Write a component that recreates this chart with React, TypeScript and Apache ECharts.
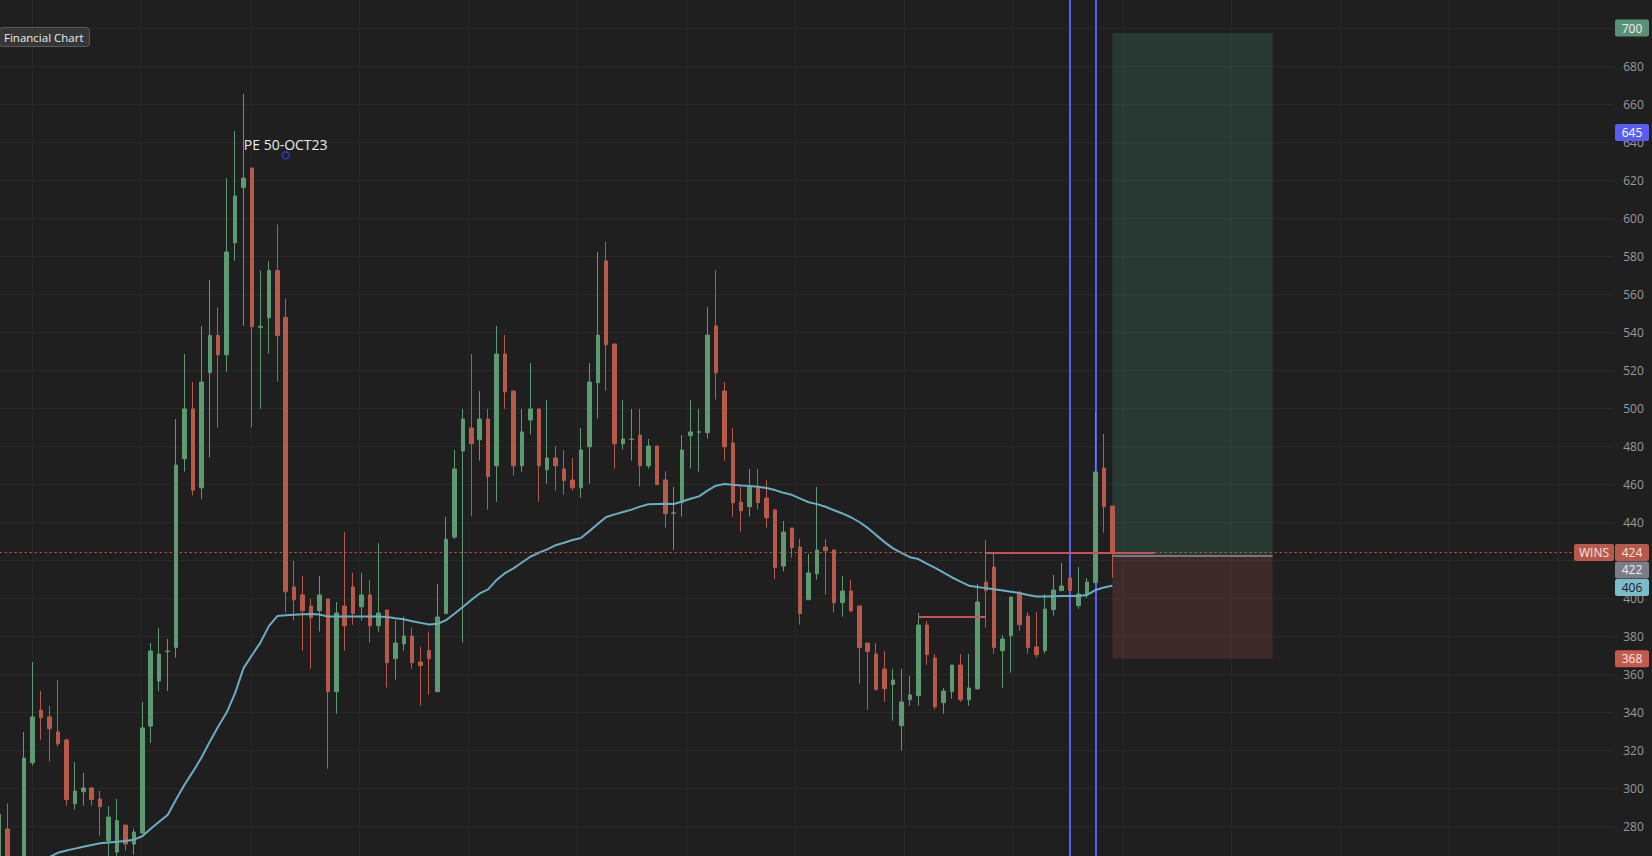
import React, { useEffect, useRef } from "react";
import * as echarts from "echarts";

// ---------- data ----------
const opens = [
  262, 278.4, 255, 262, 313.3, 341.0, 337.4, 329.5, 325.3, 291.7,
  298.1, 300.0, 294.2, 272.3, 266.3, 280.5, 270.5, 276.3, 332.6, 356.3,
  371.8, 373.9, 473.3, 499.5, 458, 518.6, 538.2, 528.0, 587.0, 616.0,
  626.3, 542.5, 547.5, 572.4, 547.7, 405.8, 401.6, 395.8, 393.3, 399.5,
  350.7, 395.8, 405.8, 395.4, 401.6, 385.4, 393.7, 368.1, 375.8, 380.0,
  366.3, 372.3, 350.7, 391.8, 432.1, 477.4, 489.5, 483.3, 494.2, 469.6,
  528.4, 508.9, 469.6, 493.7, 499.5, 467.5, 473.7, 467.9, 462.1, 458.0,
  479.6, 513.3, 577.4, 533.7, 481.2, 483.4, 485.8, 469.6, 480.0, 462.1,
  444.6, 450.2, 485.4, 487.2, 487.0, 543.2, 508.9, 481.6, 450.5, 448.1,
  458.3, 452.6, 446.3, 416.8, 436.8, 426.8, 399.1, 412.8, 426.8, 425.3,
  397.6, 403.7, 395.8, 376.3, 370.5, 362.6, 354.4, 332.8, 346.5, 348.6,
  385.8, 368.4, 344.9, 350.7, 364.7, 346.5, 352.3, 408.4, 416.3, 372.3,
  380.2, 402.1, 390.5, 374.2, 372.3, 393.9, 403.9, 410.5, 396.0, 401.8,
  408.1, 468.4, 448.4,
];
const closes = [
  286.1, 262, 262, 315.8, 337.4, 337.0, 331.2, 323.3, 293.9, 298.4,
  300.0, 293.9, 290.2, 284.7, 282.8, 270.5, 276.8, 331.6, 372.1, 370.5,
  372.1, 470.0, 499.5, 456.8, 513.7, 538.2, 528.0, 582.1, 611.6, 621.0,
  542.8, 543.0, 572.4, 538.1, 403.3, 399.1, 393.3, 389.6, 401.6, 350.7,
  392.1, 385.4, 391.8, 401.6, 385.4, 392.1, 366.0, 376.3, 380.0, 366.0,
  364.4, 368.1, 390.0, 431.0, 467.9, 494.2, 481.2, 494.2, 463.9, 528.4,
  508.6, 469.6, 487.4, 499.5, 469.6, 473.7, 469.6, 461.8, 458.0, 477.9,
  513.7, 538.4, 533.3, 481.2, 483.7, 483.6, 469.6, 480.0, 459.7, 444.4,
  444.8, 477.9, 487.4, 487.5, 538.4, 518.6, 479.6, 450.2, 446.0, 458.6,
  450.2, 442.3, 416.0, 434.7, 426.5, 391.8, 413.2, 425.3, 424.9, 397.6,
  403.7, 393.3, 373.9, 371.8, 351.9, 352.3, 356.8, 345.3, 349.0, 385.8,
  370.2, 342.8, 351.0, 364.7, 346.5, 352.6, 397.9, 403.9, 373.9, 378.4,
  400.5, 386.0, 373.9, 370.2, 394.2, 404.2, 406.3, 403.9, 402.1, 408.4,
  466.3, 448.1, 423.9,
];
const lows = [
  258, 258, 250, 258, 311.8, 325.4, 313.9, 321.8, 290.7, 288.6,
  290.7, 290.7, 274.9, 262, 263, 267.0, 264.7, 276, 323.7, 351.1,
  351.1, 368.6, 466.5, 454, 452, 473.9, 489.6, 519.1, 577.5, 543.3,
  489.6, 499.6, 528.6, 513.9, 392.3, 388.1, 372.3, 362.8, 382.3, 310.2,
  339.1, 372.3, 385.9, 388.1, 376.5, 382.3, 352.8, 357.0, 372.3, 362.8,
  343.3, 349.1, 350.7, 391.8, 431.0, 376.5, 443.0, 472.3, 446.5, 450.7,
  499.6, 464.4, 466.5, 486.0, 450.7, 460.2, 456.5, 454.4, 456.5, 452.8,
  460.2, 494.4, 509.1, 468.1, 478.1, 472.3, 458.6, 468.1, 459.7, 437.0,
  425.3, 442.8, 468.1, 466.5, 483.9, 504.4, 472.3, 442.8, 434.9, 442.8,
  446.5, 437.0, 410, 414, 421.2, 386.0, 399, 409.7, 401.8, 392.3,
  390.2, 392.3, 354.9, 341.2, 351.2, 345.4, 335.4, 319.7, 343.3, 343.3,
  364.9, 341.2, 339.1, 347.0, 345.4, 343.3, 351.5, 384.4, 370.7, 352.8,
  360.7, 382.8, 370.7, 368.6, 370.7, 390.7, 403.9, 394.4, 394.4, 400,
  407, 434.4, 410.7,
];
const highs = [
  288, 291.9, 264, 329.5, 366.3, 351.1, 343.2, 356.8, 326, 313.7,
  307.9, 300.5, 298.4, 290.5, 294.2, 280.5, 278.6, 345.3, 376.3, 384.2,
  378.4, 494.2, 528.4, 513.7, 543.1, 567.4, 553.0, 620.9, 645.8, 665.3,
  626.3, 572.4, 577.2, 596.7, 557.7, 419.5, 411.6, 399.5, 411.6, 399.5,
  397.9, 434.7, 413.2, 413.2, 409.5, 428.8, 393.7, 388.1, 390.2, 384.4,
  374.4, 382.3, 407.4, 442.6, 477.9, 499.5, 528.4, 508.9, 499.5, 543.2,
  538.4, 508.9, 499.5, 523.7, 499.5, 504.2, 480.0, 477.9, 473.7, 489.5,
  523.7, 582.1, 587.4, 533.7, 504.2, 499.5, 499.5, 483.7, 480.0, 466.5,
  458.6, 485.8, 504.2, 499.5, 553.2, 572.6, 513.7, 489.5, 458.4, 467.9,
  467.9, 462.1, 447, 440.5, 436.8, 431.1, 423.2, 458.4, 431.1, 425.3,
  411.6, 409.5, 395.8, 376.3, 376.3, 372.1, 362.6, 362.6, 359.0, 392.1,
  387.9, 370.5, 352.6, 364.7, 370.5, 370.5, 407.4, 430.5, 423.2, 380.5,
  400.5, 403.7, 392.6, 392.6, 402.1, 412.1, 418.4, 423.7, 416.3, 410.5,
  497.9, 486.3, 448.4,
];
const movingAverage = [
  257.5, 258.8, 260.0, 261.0, 262.0, 262.9,
  263.7, 265.9, 267.1, 268.1, 269.1, 270.0, 270.9, 271.3, 271.7, 272.1,
  272.8, 274.6, 278.5, 282.2, 285.8, 293.9, 301.7, 308.6, 315.9, 324.4,
  332.4, 339.7, 349.9, 363.1, 369.9, 376.5, 385.2, 390.5, 390.9, 391.2,
  391.4, 391.6, 391.3, 390.2, 390.2, 390.2, 390.2, 390.2, 390.2, 390.2,
  390.0, 389.3, 388.8, 387.8, 386.9, 386.0, 386.4, 388.3, 391.7, 395.3,
  399.0, 402.4, 404.5, 409.5, 413.1, 415.6, 418.7, 421.7, 423.8, 425.6,
  427.8, 429.1, 430.5, 431.6, 435.2, 439.0, 442.6, 444.0, 445.3, 446.5,
  448.1, 449.3, 449.5, 449.6, 449.5, 450.8, 452.2, 453.5, 456.5, 459.1,
  460.0, 459.6, 459.2, 458.9, 458.5, 457.9, 456.8, 455.4, 454.3, 452.3,
  450.4, 449.4, 448.0, 446.2, 444.5, 442.5, 440.0, 436.9, 433.1, 429.4,
  426.1, 423.7, 421.5, 420.5, 418.1, 415.8, 413.3, 410.8, 408.6, 406.5,
  405.8, 405.2, 404.6, 404.0, 403.3, 402.6, 401.6, 400.8, 400.8, 400.9,
  401.0, 401.0, 401.1, 401.6, 404.2, 405.5, 406.5,
];

// category slots: candles plus empty future slots on the right
const SLOT_COUNT = 192;
const categories = Array.from({ length: SLOT_COUNT }, (_, i) => `P${i + 1}`);

// y axis ticks
const Y_MIN = 260;
const Y_MAX = 720;
const Y_STEP = 20;
// tick labels that sit completely under a price tag in the reference
const hiddenTickLabels = [420];

// drawings
const verticalMarkers = [127, 130];
const levelSegments = [
  { from: 109, to: 117, value: 390 },
  { from: 117, to: 137, value: 424 },
];
const lastPrice = 424;
const positionBox = { from: 132, to: 151, entry: 422, target: 697.4, stop: 368 };
const note = { index: 34, value: 633, text: "PE 50-OCT23" };
const priceTags = [
  { value: 700, text: "700", bg: "#5b9179", fg: "#e9f2ec" },
  { value: 645, text: "645", bg: "#5b5df2", fg: "#ffffff" },
  { value: 424, text: "424", bg: "#b85a4b", fg: "#f6e6e2" },
  { value: 422, text: "422", bg: "#7b7e88", fg: "#f0f0f0" },
  { value: 406, text: "406", bg: "#7bbccb", fg: "#1b1b1b" },
  { value: 368, text: "368", bg: "#c35b4d", fg: "#f8e8e4" },
];
const sideTag = { value: 424, text: "WINS", bg: "#b85a4b", fg: "#f6e6e2" };

// ---------- styles ----------
const BG = "#1f1f1f";
const UP = "#5e9a71";
const DOWN = "#b75a4b";
const FONT = "Open Sans";

export default function App() {
  const ref = useRef<HTMLDivElement>(null);

  useEffect(() => {
    if (!ref.current) return;
    const chart = echarts.init(ref.current, null, { renderer: "svg" });

    const candleData = opens.map((o, i) => [o, closes[i], lows[i], highs[i]]);

    chart.setOption({
      animation: false,
      backgroundColor: BG,
      textStyle: { fontFamily: FONT },
      title: {
        text: "Financial Chart",
        left: -1,
        top: 27,
        padding: [4, 6, 4, 5],
        backgroundColor: "#363636",
        borderColor: "#5a5a5a",
        borderWidth: 1,
        borderRadius: 3,
        textStyle: {
          color: "#eeeeee",
          fontSize: 11.5,
          fontWeight: "normal",
          fontFamily: FONT,
        },
      },
      grid: [
        { left: -5.3, top: -10, width: 1619.5, height: 874, outerBoundsMode: "none", containLabel: false },
        { left: -76.7, top: -10, width: 1744, height: 874, outerBoundsMode: "none", containLabel: false },
      ],
      xAxis: [
        {
          type: "category",
          gridIndex: 0,
          data: categories,
          boundaryGap: true,
          axisLine: { show: false },
          axisTick: { show: false },
          axisLabel: { show: false },
          splitLine: { show: false },
        },
        {
          type: "value",
          gridIndex: 1,
          min: 0,
          max: 16,
          interval: 1,
          axisLine: { show: false },
          axisTick: { show: false },
          axisLabel: { show: false },
          splitLine: { show: true, lineStyle: { color: "#272727", width: 1 } },
        },
      ],
      yAxis: [
        {
          type: "value",
          gridIndex: 0,
          position: "right",
          min: Y_MIN,
          max: Y_MAX,
          interval: Y_STEP,
          axisLine: { show: false },
          axisTick: { show: false },
          axisLabel: {
            color: "#9b9b9b",
            fontSize: 12,
            fontFamily: FONT,
            margin: 9,
            showMinLabel: false,
            showMaxLabel: false,
            formatter: (v: number) => (hiddenTickLabels.includes(v) ? "" : String(v)),
          },
          splitLine: { show: true, lineStyle: { color: "#282828", width: 1 } },
        },
        {
          type: "value",
          gridIndex: 1,
          min: 0,
          max: 1,
          show: false,
        },
      ],
      series: [
        {
          type: "line",
          name: "grid-helper",
          xAxisIndex: 1,
          yAxisIndex: 1,
          data: [],
          silent: true,
        },
        {
          type: "line",
          name: "background-drawings",
          data: [],
          z: 1,
          silent: true,
          markArea: {
            silent: true,
            z: 1,
            data: [
              [
                {
                  coord: [positionBox.from, positionBox.target],
                  itemStyle: { color: "rgba(78, 160, 132, 0.2)" },
                },
                { coord: [positionBox.to, positionBox.entry] },
              ],
              [
                {
                  coord: [positionBox.from, positionBox.entry],
                  itemStyle: { color: "rgba(190, 90, 84, 0.2)" },
                },
                { coord: [positionBox.to, positionBox.stop] },
              ],
            ],
          },
          markLine: {
            silent: true,
            z: 1,
            symbol: ["none", "none"],
            label: { show: false },
            data: [
              ...verticalMarkers.map((idx) => ({
                xAxis: idx,
                lineStyle: { color: "#5a5cf4", width: 2, type: "solid" },
              })),
              [
                {
                  coord: [positionBox.from, positionBox.entry],
                  lineStyle: { color: "#8c9099", width: 1.5, type: "solid" },
                },
                { coord: [positionBox.to, positionBox.entry] },
              ],
            ],
          },
        },
        {
          type: "candlestick",
          name: "Price",
          data: candleData,
          barWidth: 4,
          z: 3,
          itemStyle: {
            color: UP,
            color0: DOWN,
            borderColor: UP,
            borderColor0: DOWN,
            borderWidth: 1,
          },
          markPoint: {
            silent: true,
            data: [
              {
                coord: [note.index, note.value],
                symbol: "circle",
                symbolSize: 7,
                itemStyle: {
                  color: "rgba(0,0,0,0)",
                  borderColor: "#2e3cb0",
                  borderWidth: 1.5,
                },
                label: {
                  show: true,
                  formatter: note.text,
                  position: "top",
                  distance: 0,
                  color: "#ececec",
                  fontSize: 14,
                  fontFamily: FONT,
                },
              },
            ],
          },
        },
        {
          type: "line",
          name: "MA",
          data: movingAverage,
          showSymbol: false,
          symbol: "none",
          z: 4,
          lineStyle: { color: "#6aaec2", width: 2 },
          silent: true,
        },
        {
          type: "line",
          name: "foreground-drawings",
          data: [],
          z: 6,
          silent: true,
          markLine: {
            silent: true,
            z: 6,
            symbol: ["none", "none"],
            label: { show: false },
            data: [
              {
                yAxis: lastPrice,
                lineStyle: { color: "#c8604c", width: 1, type: [2, 3] },
              },
              ...levelSegments.map((s) => [
                {
                  coord: [s.from, s.value],
                  lineStyle: { color: "#c9505d", width: 2, type: "solid" },
                },
                { coord: [s.to, s.value] },
              ]),
            ],
          },
        },
      ],
    });

    // price tags placed through the y scale
    const TAG_H = 17;
    const TAG_X = 1615;
    const TAG_W = 34;
    const yPix = (v: number) => chart.convertToPixel({ yAxisIndex: 0 }, v) as number;
    const placed = priceTags
      .map((t) => ({ ...t, y: yPix(t.value) }))
      .sort((a, b) => a.y - b.y);
    for (let i = 1; i < placed.length; i++) {
      const minY = placed[i - 1].y + TAG_H + 0.5;
      if (placed[i].y < minY) placed[i].y = minY;
    }
    const tagEl = (x: number, w: number, y: number, text: string, bg: string, fg: string) => ({
      type: "group",
      z: 100,
      children: [
        {
          type: "rect",
          shape: { x, y: y - TAG_H / 2, width: w, height: TAG_H, r: 2 },
          style: { fill: bg },
          z: 100,
        },
        {
          type: "text",
          z: 101,
          style: {
            text,
            x: x + w / 2,
            y,
            align: "center",
            verticalAlign: "middle",
            textAlign: "center",
            textVerticalAlign: "middle",
            fontSize: 12,
            fontFamily: FONT,
            fill: fg,
          },
        },
      ],
    });
    const sideY = yPix(sideTag.value);
    chart.setOption({
      graphic: [
        ...placed.map((t) => tagEl(TAG_X, TAG_W, t.y, t.text, t.bg, t.fg)),
        tagEl(1574, 40, sideY, sideTag.text, sideTag.bg, sideTag.fg),
      ],
    });

    return () => chart.dispose();
  }, []);

  return (
    <div
      ref={ref}
      style={{
        position: "fixed",
        left: 0,
        top: 0,
        width: 1652,
        height: 856,
        background: BG,
      }}
    />
  );
}
